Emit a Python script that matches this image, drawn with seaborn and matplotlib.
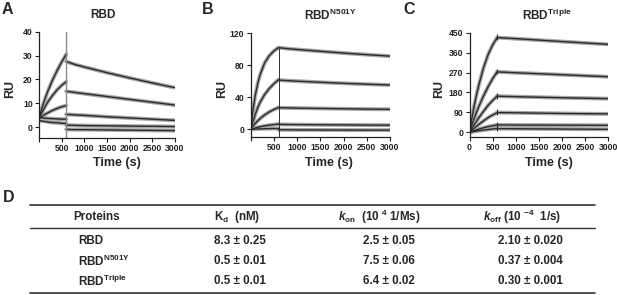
import pandas as pd
import matplotlib
matplotlib.use("Agg")
import matplotlib.pyplot as plt
import seaborn as sns
from matplotlib.lines import Line2D

# =====================================================
# DATA
# =====================================================

assoc_time = [0, 50, 100, 150, 200, 300, 400, 500, 600]
dissoc_time = [600, 800, 1000, 1500, 2000, 2500, 3000]
inject_end = 600

rbd_assoc = [
    [3.5, 7.0, 10.0, 12.8, 15.3, 19.8, 23.7, 27.3, 30.5],
    [3.5, 5.5, 7.4, 9.1, 10.7, 13.3, 15.6, 17.5, 19.0],
    [3.5, 4.2, 4.9, 5.5, 6.0, 7.0, 7.8, 8.5, 9.0],
    [4.0, 3.9, 3.8, 3.7, 3.6, 3.5, 3.4, 3.3, 3.3],
    [2.8, 2.6, 2.4, 2.3, 2.1, 1.9, 1.8, 1.6, 1.5],
]
rbd_dissoc = [
    [27.5, 26.2, 25.2, 22.8, 20.6, 18.5, 16.5],
    [15.0, 14.5, 14.0, 12.8, 11.6, 10.4, 9.2],
    [5.3, 5.1, 4.9, 4.3, 3.8, 3.3, 2.8],
    [0.8, 0.7, 0.6, 0.5, 0.4, 0.3, 0.2],
    [-1.0, -1.1, -1.1, -1.2, -1.3, -1.4, -1.5],
]

n501y_assoc = [
    [0, 25, 43, 57, 68, 83, 92, 98, 102],
    [0, 10, 19, 27, 33.5, 43.5, 51, 57, 62],
    [0, 4, 7.5, 10.5, 13.3, 18, 21.8, 24.8, 27.3],
    [0, 0.9, 1.7, 2.5, 3.2, 4.3, 5.2, 5.9, 6.5],
    [0, 0.2, 0.4, 0.5, 0.6, 0.8, 0.9, 1.0, 1.0],
]
n501y_dissoc = [
    [102, 100.8, 99.8, 97.5, 95.3, 93.3, 91.5],
    [61.5, 60.8, 60.2, 58.8, 57.5, 56.4, 55.4],
    [27.0, 26.8, 26.5, 26.1, 25.7, 25.3, 25.0],
    [6.2, 6.0, 5.9, 5.7, 5.5, 5.3, 5.2],
    [-0.5, -0.6, -0.7, -0.8, -0.9, -1.0, -1.0],
]

triple_assoc = [
    [0, 62, 118, 168, 212, 290, 350, 395, 428],
    [0, 32, 62, 90, 116, 163, 205, 242, 274],
    [0, 17, 34, 50, 65, 94, 121, 144, 164],
    [0, 9, 18, 27, 35, 51, 66, 78, 89],
    [0, 3.5, 7, 10.5, 14, 20, 25, 29.5, 33],
    [0, 1.8, 3.5, 5.2, 7, 10, 12.5, 15, 17],
]
triple_dissoc = [
    [428, 425.5, 423, 416.5, 410, 403.5, 397.5],
    [273, 271, 269, 264.5, 260, 255.5, 251],
    [163, 162, 161, 158.5, 156, 154, 152],
    [89, 88.5, 88, 86.5, 85, 84, 83],
    [33, 32.9, 32.7, 32.4, 32.1, 31.8, 31.6],
    [16.5, 16.2, 16.0, 15.3, 14.6, 14.0, 13.5],
]

panel_titles = ["RBD", "RBD$^{N501Y}$", "RBD$^{Triple}$"]
panel_letters = ["A", "B", "C"]
panel_yticks = [[0, 10, 20, 30, 40], [0, 40, 80, 120], [0, 90, 180, 270, 360, 450]]
x_ticks = [0, 500, 1000, 1500, 2000, 2500, 3000]

# table D
table_headers = ["Proteins", "K$_{d}$  (nM)",
                 "$\\mathit{k}_{on}$  (10 $^{4}$ 1/Ms)",
                 "$\\mathit{k}_{off}$ (10 $^{-4}$  1/s)"]
proteins = ["RBD", "RBD$^{N501Y}$", "RBD$^{Triple}$"]
kd_vals = ["8.3 ± 0.25", "0.5 ± 0.01", "0.5 ± 0.01"]
kon_vals = ["2.5 ± 0.05", "7.5 ± 0.06", "6.4 ± 0.02"]
koff_vals = ["2.10 ± 0.020", "0.37 ± 0.004", "0.30 ± 0.001"]

# =====================================================
# STYLE
# =====================================================

sns.set_style("ticks")
plt.rcParams["font.family"] = ["Liberation Sans", "DejaVu Sans"]
plt.rcParams["font.weight"] = "bold"
plt.rcParams["mathtext.fontset"] = "custom"
plt.rcParams["mathtext.rm"] = "Liberation Sans:bold"
plt.rcParams["mathtext.it"] = "Liberation Sans:italic:bold"
plt.rcParams["mathtext.bf"] = "Liberation Sans:bold"
plt.rcParams["mathtext.default"] = "rm"

W, H = 617, 295
fig = plt.figure(figsize=(W / 100, H / 100), dpi=100)


def px(x, y):
    return x / W, 1 - y / H


def build_frame(assoc, dissoc):
    rows = []
    for i, (a, d) in enumerate(zip(assoc, dissoc)):
        for t, v in zip(assoc_time, a):
            rows.append({"seg": f"{i}a", "time": t, "RU": v})
        for t, v in zip(dissoc_time, d):
            rows.append({"seg": f"{i}d", "time": t, "RU": v})
    return pd.DataFrame(rows)


# axes boxes in pixels: left, top, right, bottom
boxes = [(39, 31.7, 175, 138), (250.7, 33.3, 390, 136.7), (469.5, 32.7, 608.3, 136.7)]
ylims = [(-4.6, 40), (-9.2, 120), (-20, 450)]
datasets = [(rbd_assoc, rbd_dissoc), (n501y_assoc, n501y_dissoc), (triple_assoc, triple_dissoc)]
title_x = [103, 330, 547]
xlabel_x = [117, 329, 549]
ylabel_x = [10, 222, 439]
letter_xy = [(7, 9), (208, 9), (409, 9)]

for k in range(3):
    l, t, r, b = boxes[k]
    ax = fig.add_axes([l / W, 1 - b / H, (r - l) / W, (b - t) / H])
    assoc, dissoc = datasets[k]
    df = build_frame(assoc, dissoc)

    # raw data (thick grey) and fit (thin black)
    sns.lineplot(data=df, x="time", y="RU", units="seg", estimator=None,
                 color="#a6a6a6", linewidth=2.8, ax=ax, legend=False)
    sns.lineplot(data=df, x="time", y="RU", units="seg", estimator=None,
                 color="#2a2a2a", linewidth=1.0, ax=ax, legend=False)

    ymin, ymax = ylims[k]
    if k == 0:
        ax.axvline(inject_end, color="#8a8a8a", linewidth=1.0)
    elif k == 1:
        ax.vlines(inject_end, ymin, max(a[-1] for a in assoc),
                  color="#2e2e2e", linewidth=0.7)
    else:
        for a in assoc:
            ax.vlines(inject_end, a[-1] - 12, a[-1] + 14,
                      color="#2e2e2e", linewidth=0.8)

    ax.set_xlim(0, 3000)
    ax.set_ylim(ymin, ymax)
    ax.set_xticks(x_ticks)
    ax.set_xticklabels(["0" if (k == 2 and v == 0) else ("" if v == 0 else str(v)) for v in x_ticks])
    ax.set_yticks(panel_yticks[k])
    ax.set_xlabel("")
    ax.set_ylabel("")
    sns.despine(ax=ax)
    for s in ["left", "bottom"]:
        ax.spines[s].set_linewidth(0.9)
        ax.spines[s].set_color("#222222")
    ax.tick_params(length=3, width=0.8, labelsize=6.2, pad=1.5, colors="#222222")
    for lbl in ax.get_xticklabels() + ax.get_yticklabels():
        lbl.set_fontweight("bold")

    fig.text(*px(title_x[k], 15), panel_titles[k], ha="center", va="center",
             fontsize=8.5, fontweight="bold")
    fig.text(*px(xlabel_x[k], 163), "Time (s)", ha="center", va="center",
             fontsize=9, fontweight="bold")
    fig.text(*px(ylabel_x[k], 89), "RU", ha="center", va="center",
             fontsize=9, fontweight="bold", rotation=90)
    fig.text(*px(*letter_xy[k]), panel_letters[k], ha="center", va="center",
             fontsize=11.5, fontweight="bold")

# =====================================================
# TABLE D
# =====================================================

fig.text(*px(9, 198), "D", ha="center", va="center", fontsize=11.5, fontweight="bold")

for y, lw in [(205, 1.2), (228, 1.0), (293, 1.2)]:
    x0, yy = px(30, y)
    x1, _ = px(595, y)
    fig.add_artist(Line2D([x0, x1], [yy, yy], color="#333333", linewidth=lw))

tsize = 8.4
fig.text(*px(97, 217), table_headers[0], ha="center", va="center", fontsize=tsize)
fig.text(*px(214, 217), table_headers[1], ha="left", va="center", fontsize=tsize)
fig.text(*px(338, 217), table_headers[2], ha="left", va="center", fontsize=tsize)
fig.text(*px(483, 217), table_headers[3], ha="left", va="center", fontsize=tsize)

row_y = [241, 261, 281]
for i in range(3):
    fig.text(*px(78, row_y[i]), proteins[i], ha="left", va="center", fontsize=tsize)
    fig.text(*px(214, row_y[i]), kd_vals[i], ha="left", va="center", fontsize=tsize)
    fig.text(*px(415, row_y[i]), kon_vals[i], ha="right", va="center", fontsize=tsize)
    fig.text(*px(563, row_y[i]), koff_vals[i], ha="right", va="center", fontsize=tsize)

fig.savefig("out.png", dpi=100)
